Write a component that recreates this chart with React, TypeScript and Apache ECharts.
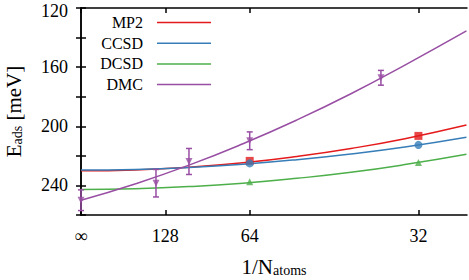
import React, { useEffect, useRef } from 'react';
import * as echarts from 'echarts';

const seriesNames = ['MP2', 'CCSD', 'DCSD', 'DMC'];
const seriesColors = ['#e41a1c', '#377eb8', '#4daf4a', '#984ea3'];

// fitted curves
const fitX = [0, 0.005, 0.01, 0.015, 0.02, 0.025, 0.03, 0.0357];
const mp2Fit = [230.1, 229.5, 227.7, 224.7, 220.4, 215.0, 208.4, 199.2];
const ccsdFit = [229.6, 229.2, 227.9, 225.7, 222.6, 218.7, 214.0, 207.4];
const dcsdFit = [242.7, 242.2, 240.8, 238.5, 235.2, 231.1, 225.9, 218.9];
const dmcFit = [250.0, 239.0, 226.3, 211.8, 195.7, 178.0, 158.6, 135.5];

// computed points
const qcX = [1 / 64, 1 / 32];
const mp2Pts = [223.4, 206.5];
const ccsdPts = [225.1, 212.6];
const dcsdPts = [237.5, 224.5];

const dmcX = [0, 1 / 144, 1 / 100, 1 / 64, 1 / 36];
const dmcPts = [250.0, 238.5, 223.8, 209.8, 167.2];
const dmcErr = [7.0, 9.3, 8.8, 6.0, 5.0];

const xTickValues = [0, 1 / 128, 1 / 64, 1 / 32];
const xTickLabels = ['∞', '128', '64', '32'];
const yTickLabelValues = [120, 160, 200, 240];

const FONT = 'Liberation Serif';

export default function App() {
  const ref = useRef<HTMLDivElement>(null);
  useEffect(() => {
    if (!ref.current) return;
    const chart = echarts.init(ref.current, undefined, { renderer: 'svg' });
    const pairs = (xs: number[], ys: number[]) => xs.map((x, i) => [x, ys[i]]);
    const fits = [mp2Fit, ccsdFit, dcsdFit, dmcFit];
    const xMin = 0;
    const xMax = 0.03575;
    const axisLine = { show: true, lineStyle: { color: '#000', width: 1.5 } };
    const tickStyle = { inside: true, length: 5, lineStyle: { color: '#000', width: 1.5 } };

    const legendGraphics: any[] = [];
    seriesNames.forEach((n, i) => {
      const y = 22.5 + i * 20.7;
      legendGraphics.push({
        type: 'text',
        x: 143,
        y,
        style: { text: n, font: `16px "${FONT}"`, fill: '#000', textAlign: 'right', textVerticalAlign: 'middle' },
      });
      legendGraphics.push({
        type: 'line',
        shape: { x1: 157, y1: y, x2: 211, y2: y },
        style: { stroke: seriesColors[i], lineWidth: 1.5 },
      });
    });

    const nameRich = {
      m: { fontSize: 21, lineHeight: 21, fontFamily: FONT, color: '#000' },
      sub: { fontSize: 14, lineHeight: 14, fontFamily: FONT, color: '#000', padding: [8, 0, 0, 0] },
    };

    const tickRich = {
      n: { fontSize: 18, lineHeight: 15, fontFamily: FONT, color: '#000' },
      top: { fontSize: 18, lineHeight: 15, fontFamily: FONT, color: '#000', padding: [6, 0, 0, 0] },
    };

    const option: any = {
      animation: false,
      textStyle: { fontFamily: FONT },
      grid: { left: 81, right: 2, top: 8, bottom: 65, containLabel: false, outerBoundsMode: 'none' },
      xAxis: [
        {
          type: 'value',
          min: xMin,
          max: xMax,
          axisLine,
          splitLine: { show: false },
          axisTick: { ...tickStyle, customValues: xTickValues },
          axisLabel: {
            customValues: xTickValues,
            margin: 13,
            fontSize: 18,
            lineHeight: 15,
            fontFamily: FONT,
            color: '#000',
            formatter: (v: number) => {
              const idx = xTickValues.findIndex((t) => Math.abs(t - v) < 1e-9);
              return idx >= 0 ? xTickLabels[idx] : '';
            },
          },
          name: '{m|1/N}{sub|atoms}',
          nameLocation: 'middle',
          nameGap: 41,
          nameTextStyle: { rich: nameRich },
        },
        {
          type: 'value',
          position: 'top',
          min: xMin,
          max: xMax,
          axisLine,
          splitLine: { show: false },
          axisTick: { ...tickStyle, customValues: xTickValues },
          axisLabel: { show: false },
        },
      ],
      yAxis: [
        {
          type: 'value',
          min: 120,
          max: 260,
          interval: 20,
          inverse: true,
          axisLine,
          splitLine: { show: false },
          axisTick: tickStyle,
          axisLabel: {
            customValues: yTickLabelValues,
            margin: 13,
            fontSize: 18,
            lineHeight: 15,
            fontFamily: FONT,
            color: '#000',
            rich: tickRich,
            formatter: (v: number) => (v === yTickLabelValues[0] ? `{top|${v}}` : `{n|${v}}`),
          },
          name: '{m|E}{sub|ads}{m| [meV]}',
          nameLocation: 'middle',
          nameGap: 57,
          nameRotate: 90,
          nameTextStyle: { rich: nameRich },
        },
        {
          type: 'value',
          position: 'right',
          min: 120,
          max: 260,
          interval: 20,
          inverse: true,
          axisLine,
          splitLine: { show: false },
          axisTick: tickStyle,
          axisLabel: { show: false },
        },
      ],
      graphic: legendGraphics,
      series: [
        ...fits.map((f, i) => ({
          type: 'line',
          name: seriesNames[i],
          data: pairs(fitX, f),
          smooth: true,
          showSymbol: false,
          symbol: 'none',
          lineStyle: { color: seriesColors[i], width: 1.5 },
          clip: true,
          z: 2,
        })),
        {
          type: 'scatter',
          data: pairs(qcX, mp2Pts),
          symbol: 'rect',
          symbolSize: 8,
          itemStyle: { color: seriesColors[0] },
          z: 3,
        },
        {
          type: 'scatter',
          data: pairs(qcX, ccsdPts),
          symbol: 'circle',
          symbolSize: 8,
          itemStyle: { color: seriesColors[1] },
          z: 3,
        },
        {
          type: 'scatter',
          data: pairs(qcX, dcsdPts),
          symbol: 'triangle',
          symbolSize: 7,
          itemStyle: { color: seriesColors[2] },
          z: 3,
        },
        {
          type: 'scatter',
          data: pairs(dmcX, dmcPts),
          symbol: 'triangle',
          symbolRotate: 180,
          symbolSize: 7,
          itemStyle: { color: seriesColors[3] },
          z: 3,
        },
        {
          type: 'custom',
          data: dmcX.map((x, i) => [x, dmcPts[i], dmcErr[i]]),
          z: 3,
          renderItem: (params: any, api: any) => {
            const x = api.value(0);
            const y = api.value(1);
            const e = api.value(2);
            const top = api.coord([x, y - e]);
            const bot = api.coord([x, y + e]);
            const w = 3;
            const style = { stroke: seriesColors[3], lineWidth: 1.5 };
            return {
              type: 'group',
              children: [
                { type: 'line', shape: { x1: top[0], y1: top[1], x2: bot[0], y2: bot[1] }, style },
                { type: 'line', shape: { x1: top[0] - w, y1: top[1], x2: top[0] + w, y2: top[1] }, style },
                { type: 'line', shape: { x1: bot[0] - w, y1: bot[1], x2: bot[0] + w, y2: bot[1] }, style },
              ],
            };
          },
        },
      ],
    };
    chart.setOption(option);
    return () => chart.dispose();
  }, []);
  return (
    <div style={{ position: 'fixed', left: 0, top: 0, width: 469, height: 280, background: '#fff' }}>
      <div ref={ref} style={{ width: 469, height: 280 }} />
    </div>
  );
}
